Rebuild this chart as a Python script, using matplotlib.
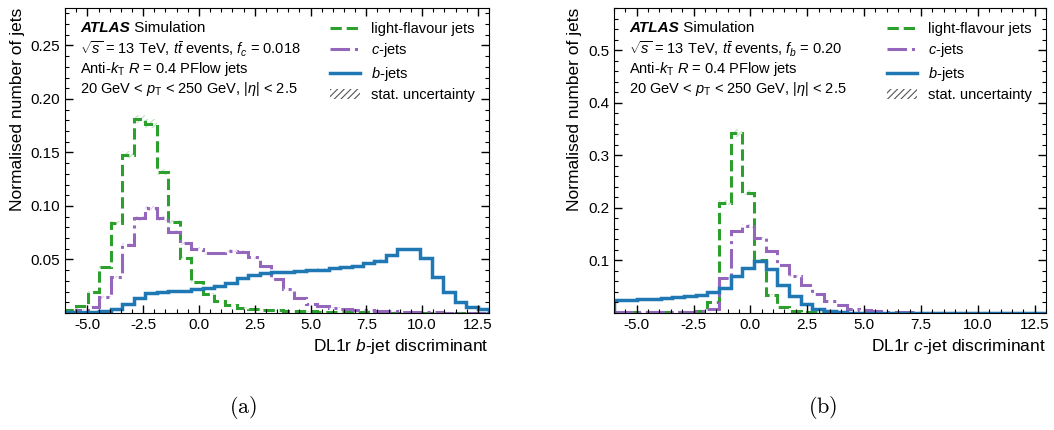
import numpy as np
import matplotlib
matplotlib.use("Agg")
from matplotlib import pyplot as plt
from matplotlib import ticker
from matplotlib.lines import Line2D
from matplotlib.patches import Patch

plt.rcParams['font.family'] = ['Liberation Sans', 'DejaVu Sans']
plt.rcParams['mathtext.fontset'] = 'custom'
plt.rcParams['mathtext.rm'] = 'Liberation Sans'
plt.rcParams['mathtext.it'] = 'Liberation Sans:italic'
plt.rcParams['mathtext.bf'] = 'Liberation Sans:bold'
plt.rcParams['hatch.linewidth'] = 0.8

# bin edges shared by both discriminants (37 bins between -6 and 13)
bin_edges = np.linspace(-6, 13, 38)

# (a) DL1r b-jet discriminant
light_b = [0.003, 0.007, 0.020, 0.043, 0.084, 0.148, 0.181, 0.177, 0.132, 0.085,
           0.051, 0.029, 0.018, 0.011, 0.0075, 0.005, 0.004, 0.003, 0.0025, 0.002,
           0.0017, 0.0014, 0.0012, 0.001, 0.0008, 0.0006, 0.0005, 0.0004, 0.0003, 0.0003,
           0.0002, 0.0002, 0.0001, 0.0001, 0.0001, 0.0001, 0.0001]
c_b = [0.001, 0.003, 0.006, 0.015, 0.034, 0.064, 0.0885, 0.098, 0.0885, 0.076,
       0.065, 0.060, 0.056, 0.056, 0.058, 0.057, 0.052, 0.044, 0.032, 0.022,
       0.014, 0.0084, 0.0065, 0.005, 0.004, 0.003, 0.0025, 0.002, 0.0015, 0.001,
       0.0008, 0.0006, 0.0005, 0.0004, 0.0003, 0.0002, 0.0002]
b_b = [0.0005, 0.0007, 0.001, 0.0017, 0.004, 0.0085, 0.014, 0.0185, 0.020, 0.0205,
       0.021, 0.022, 0.0237, 0.0255, 0.028, 0.033, 0.0355, 0.0375, 0.0386, 0.0386,
       0.039, 0.040, 0.0405, 0.0417, 0.043, 0.044, 0.0464, 0.049, 0.054, 0.0595,
       0.0595, 0.051, 0.034, 0.020, 0.0106, 0.006, 0.0037]

# (b) DL1r c-jet discriminant
light_c = [0.0008, 0.001, 0.001, 0.0012, 0.0015, 0.0018, 0.002, 0.003, 0.020, 0.210,
           0.342, 0.229, 0.100, 0.035, 0.012, 0.004, 0.002, 0.0012, 0.0008, 0.0005,
           0.0004, 0.0003, 0.0002, 0.0002, 0.0001, 0.0001, 0.0001, 0.0001, 0.0001, 0.0001,
           0.0001, 0.0001, 0.0001, 0.0001, 0.0001, 0.0001, 0.0001]
c_c = [0.001, 0.001, 0.0012, 0.0014, 0.0016, 0.002, 0.0025, 0.004, 0.008, 0.066,
       0.155, 0.165, 0.142, 0.117, 0.0905, 0.070, 0.054, 0.036, 0.023, 0.015,
       0.0085, 0.0057, 0.003, 0.002, 0.0015, 0.001, 0.0008, 0.0006, 0.0005, 0.0004,
       0.0003, 0.0003, 0.0002, 0.0002, 0.0002, 0.0001, 0.0001]
b_c = [0.0245, 0.0255, 0.0265, 0.0275, 0.0285, 0.030, 0.032, 0.035, 0.039, 0.048,
       0.070, 0.086, 0.098, 0.083, 0.053, 0.032, 0.017, 0.007, 0.003, 0.0015,
       0.0008, 0.0005, 0.0004, 0.0003, 0.0002, 0.0002, 0.0001, 0.0001, 0.0001, 0.0001,
       0.0001, 0.0001, 0.0001, 0.0001, 0.0001, 0.0001, 0.0001]

flavours = ["light-flavour jets", "$c$-jets", "$b$-jets"]
colours = ["#2ca02c", "#9467bd", "#1f77b4"]
styles = ["--", "-.", "-"]
widths = [2.2, 2.2, 2.5]


def draw_panel(ax, hists, frac_text, xlabel, ylim, ymajor, yminor):
    for vals, col, ls, lw in zip(hists, colours, styles, widths):
        vals = np.asarray(vals)
        err = 0.02 * vals + 0.0003  # thin stat. uncertainty band
        ax.stairs(vals + err, bin_edges, baseline=vals - err, fill=True,
                  facecolor="none", edgecolor=col, hatch="/////", lw=0, alpha=0.3)
        ax.stairs(vals, bin_edges, color=col, ls=ls, lw=lw)

    ax.set_xlim(-6, 13)
    ax.set_ylim(*ylim)
    ax.xaxis.set_major_locator(ticker.MultipleLocator(2.5))
    ax.xaxis.set_minor_locator(ticker.MultipleLocator(0.5))
    ax.xaxis.set_major_formatter(ticker.FormatStrFormatter("%.1f"))
    ax.set_yticks(ymajor)
    ax.yaxis.set_minor_locator(ticker.MultipleLocator(yminor))
    ax.tick_params(which="both", direction="in", top=True, right=True, labelsize=11)
    ax.tick_params(which="major", length=6, width=1)
    ax.tick_params(which="minor", length=3, width=0.8)
    ax.set_xlabel(xlabel, fontsize=12.5, loc="right")
    ax.set_ylabel("Normalised number of jets", fontsize=12.5, loc="top")

    tx = 0.035
    t = ax.text(tx, 0.933, "ATLAS", transform=ax.transAxes, fontsize=11,
                fontweight="bold", fontstyle="italic", va="center")
    ax.annotate(" Simulation", xy=(1, 0.5), xycoords=t, fontsize=11, va="center")
    ax.text(tx, 0.866, r"$\sqrt{s}$ = 13 TeV, $t\bar{t}$ events, " + frac_text,
            transform=ax.transAxes, fontsize=10.5, va="center")
    ax.text(tx, 0.800, r"Anti-$k_{\mathrm{T}}$ $R$ = 0.4 PFlow jets",
            transform=ax.transAxes, fontsize=10.5, va="center")
    ax.text(tx, 0.734, r"20 GeV < $p_{\mathrm{T}}$ < 250 GeV, $|\eta|$ < 2.5",
            transform=ax.transAxes, fontsize=10.5, va="center")

    handles = [Line2D([], [], color=c, ls=s, lw=w) for c, s, w in zip(colours, styles, widths)]
    handles.append(Patch(facecolor="none", edgecolor="#555555", hatch="/////", lw=0))
    ax.legend(handles, flavours + ["stat. uncertainty"], loc="upper right",
              frameon=False, fontsize=10.5, handlelength=2.0, labelspacing=0.38,
              handletextpad=0.8, borderaxespad=0.55)


fig = plt.figure(figsize=(10.54, 4.30), dpi=100)
ax1 = fig.add_axes([0.0617, 0.2721, 0.4023, 0.7093])
ax2 = fig.add_axes([0.5825, 0.2721, 0.4099, 0.7093])

draw_panel(ax1, [light_b, c_b, b_b], r"$f_c$ = 0.018", "DL1r $b$-jet discriminant",
           (0, 0.285), [0.05, 0.10, 0.15, 0.20, 0.25], 0.01)
draw_panel(ax2, [light_c, c_c, b_c], r"$f_b$ = 0.20", "DL1r $c$-jet discriminant",
           (0, 0.58), [0.1, 0.2, 0.3, 0.4, 0.5], 0.02)
ax1.yaxis.set_major_formatter(ticker.FormatStrFormatter("%.2f"))
ax2.yaxis.set_major_formatter(ticker.FormatStrFormatter("%.1f"))

fig.text(0.2306, 0.04, r"$\mathrm{(a)}$", fontsize=16, ha="center", math_fontfamily="cm")
fig.text(0.7808, 0.04, r"$\mathrm{(b)}$", fontsize=16, ha="center", math_fontfamily="cm")

fig.savefig("out.png", dpi=100)
